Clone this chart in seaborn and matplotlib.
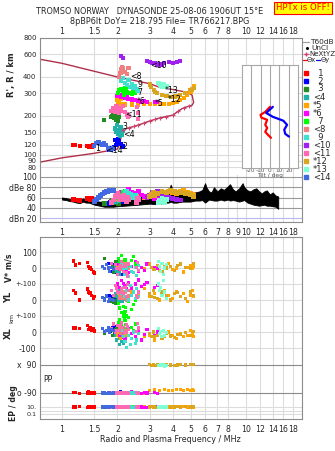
import numpy as np
import pandas as pd
import matplotlib
matplotlib.use("Agg")
import matplotlib.pyplot as plt
from matplotlib.ticker import FixedLocator, NullLocator, FixedFormatter
from matplotlib.lines import Line2D
import seaborn as sns

sns.set_theme(style="white")
plt.rcParams["font.family"] = ["DejaVu Sans"]

nan = np.nan

# ------------------------------------------------------------------ data
freq_ticks = [1, 1.5, 2, 3, 4, 5, 6, 7, 8, 10, 12, 14, 16, 18]
freq_labels = ["1", "1.5", "2", "3", "4", "5", "6", "7", "8", "10", "12", "14", "16", "18"]
freq_ticks_mid = [1, 1.5, 2, 3, 4, 5, 6, 7, 8, 9, 10, 12, 14, 16, 18]
freq_labels_mid = ["1", "1.5", "2", "3", "4", "5", "6", "7", "8", "9", "10", "12", "14", "16", "18"]
height_ticks = [80, 90, 100, 120, 150, 200, 300, 400, 600, 800]
db_ticks = [20, 40, 60, 80, 100]
db_labels = ["dBn 20", "40", "60", "dBe 80", "100"]
tilt_ticks = [-20, -10, 0, 10, 20]

mode_names = ["1", "2", "3", "<4", "*5", "*6", "7", "<8", "9", "<10", "<11", "*12", "*13", "<14"]
mode_colors = ["#FF0000", "#0000FF", "#228B22", "#20B2AA", "#FFA500", "#FF00FF", "#00FF00",
               "#F08080", "#40E0D0", "#A020F0", "#FF69B4", "#DAA520", "#7FFFD4", "#4169E1"]

# mode 1
f1 = [1.15, 1.18, 1.25, 1.37, 1.40, 1.42, 1.45, 1.48, 1.50]
h1 = [120, 119, 118, 117, 116, 118, 116, 119, 117]
db1 = [56, 55, 54, 58, 57, 56, 58, 55, 54]
v1 = [44, 19, 30, 37, 12, 0, -12, -25, -31]
yl1 = [62, 44, 0, 69, 50, 44, 30, 12, 20]
xl1 = [25, 25, 20, 40, 15, 30, 10, 20, 6]
pp1 = [-85, -88, -95, -90, -80, -92, -86, -95, -90]
ep1 = [10, 10, 12, 8, 10, 12, 10, 8, 10]
# mode 2
f2 = [1.80, 1.84, 1.88, 1.92, 1.95, 1.96, 2.00, 2.02, 2.04, 2.08, 2.12, 2.15]
h2 = [110, 109, 112, 116, 130, 120, 125, 132, 128, 122, 116, 118]
db2 = [48, 50, 50, 52, 50, 55, 58, 54, 60, 57, 55, 52]
v2 = [30, -20, 20, 0, 25, -30, 10, -10, -15, 5, -40, 15]
yl2 = [30, 0, 20, -12, -15, 10, 0, 10, 25, -5, 15, 5]
xl2 = [10, 5, 30, 0, 35, 20, 10, 20, 5, 25, 15, -5]
pp2 = [-84, -92, -90, -85, -86, -95, -88, -90, -92, -80, -90, -96]
ep2 = [10, 8, 10, 12, 12, 8, 10, 10, 10, 15, 8, 10]
# mode 3
f3 = [1.70, 1.85, 1.88, 1.90, 1.92, 1.95, 1.97, 2.00, 2.02, 2.03]
h3 = [185, 195, 200, 206, 192, 198, 188, 205, 184, 196]
db3 = [48, 52, 55, 54, 50, 53, 52, 56, 49, 50]
v3 = [60, 30, 10, -30, -20, 40, 20, 0, 50, -10]
yl3 = [10, -10, 5, -15, 20, -20, -5, 0, 25, 15]
xl3 = [-6, 10, -20, 8, 5, 15, 20, -10, -15, 0]
pp3 = [-90, -86, -94, -88, -90, -88, -96, -92, -90, -84]
ep3 = [10, 12, 10, 10, 8, 10, 15, 12, 8, 10]
# mode <4
f4 = [1.95, 1.98, 2.00, 2.02, 2.05, 2.06, 2.08, 2.10, 2.12, 2.15]
h4 = [160, 150, 170, 145, 155, 140, 165, 148, 142, 152]
db4 = [52, 55, 54, 58, 60, 57, 56, 62, 58, 60]
v4 = [10, -20, 15, 30, -40, -30, 0, 20, -10, 5]
yl4 = [40, 20, 50, 0, 60, 20, 10, 30, -10, 5]
xl4 = [-20, -50, -10, 10, -80, -40, -30, 0, -60, -70]
pp4 = [-90, -88, -92, -86, -94, -90, -84, -90, -96, -88]
ep4 = [10, 10, 12, 8, 10, 10, 12, 10, 8, 10]
# mode *5
f5 = [2.00, 2.02, 2.05, 2.08, 2.10, 2.20, 2.40, 2.60, 2.80, 3.00, 3.20, 3.40, 3.60, 3.80, 4.00,
      4.20, 4.40, 4.60, 4.80, 5.00, 5.10, 5.20]
h5 = [265, 250, 260, 272, 248, 245, 245, 245, 246, 246, 246, 246, 247, 248, 252,
      258, 265, 275, 290, 305, 320, 340]
db5 = [58, 60, 65, 60, 62, 58, 62, 65, 60, 63, 66, 70, 68, 72, 70, 68, 72, 74, 70, 68, 66, 64]
v5 = [0, 10, -10, -10, 20, 0, -20, 15, -5, 25, 5, -15, 10, 30, -10, 0, 20, -25, 5, 15, -5, 10]
yl5 = [50, 40, 20, 10, 60, 10, 50, 30, 70, 20, 40, 0, 60, 30, 10, 50, 20, 40, -10, 30, 60, 20]
xl5 = [-20, -10, -30, -40, 0, -20, -40, -10, -30, -20, -50, -10, -30, 0, -20, -40, -10, -30,
       -20, 10, -10, -30]
pp5 = [-90, -90, -88, -88, -92, -90, -86, -94, -90, -72, -70, -75, -68, -72, -74, -66, -70,
       -72, -68, -74, -70, -72]
ep5 = [10, 10, 10, 8, 12, 10, 8, 10, 12, 10, 10, 8, 12, 10, 10, 15, 10, 12, 10, 15, 12, 10]
# mode *6
f6 = [2.00, 2.05, 2.10, 2.15, 2.20, 2.25, 2.30, 2.40, 2.50, 2.60, 2.70, 2.80, 2.90, 3.20, 3.30]
h6 = [285, 290, 280, 295, 275, 285, 270, 268, 265, 262, 258, 260, 255, 258, 256]
db6 = [60, 65, 70, 66, 72, 70, 75, 70, 68, 72, 65, 62, 60, 58, 62]
v6 = [20, -10, 30, 15, 0, -25, -30, 10, 40, -20, 5, -15, 25, 0, -5]
yl6 = [100, 80, 120, 105, 90, 70, 110, 75, 100, 125, 85, 95, 110, 80, 90]
xl6 = [10, -20, 0, -35, -40, 10, 20, -10, -30, 5, -50, -15, 15, -25, 0]
pp6 = [-90, -88, -94, -90, -86, -88, -92, -80, -90, -84, -95, -88, -90, -86, -92]
ep6 = [6, 8, 6, 8, 10, 6, 8, 6, 8, 6, 10, 8, 6, 8, 10]
# mode 7
f7 = [2.02, 2.05, 2.10, 2.15, 2.18, 2.20, 2.22, 2.25, 2.30, 2.40, 2.45, 2.50]
h7 = [300, 315, 320, 310, 290, 330, 325, 305, 300, 295, 320, 300]
db7 = [60, 62, 65, 70, 58, 72, 70, 68, 66, 62, 64, 60]
v7 = [60, 40, 80, 20, 35, 50, 55, 30, 10, 45, 70, 25]
yl7 = [-20, -50, -80, -40, -90, -70, -45, -100, -10, -60, -30, 0]
xl7 = [60, 80, 40, 100, 75, 70, 45, 20, 90, 30, 10, 50]
pp7 = [-90, -86, -94, -90, -90, -88, -86, -92, -84, -90, -88, -96]
ep7 = [10, 12, 10, 8, 12, 12, 10, 10, 15, 10, 10, 8]
# mode <8
f8 = [2.05, 2.08, 2.10, 2.12, 2.15, 2.20, 2.25, 2.30]
h8 = [400, 430, 460, 480, 470, 440, 420, 470]
db8 = [55, 58, 60, 62, 58, 56, 60, 57]
v8 = [10, -10, 20, 0, -20, 30, 5, -5]
yl8 = [40, 20, 60, 30, 10, 50, 0, 25]
xl8 = [20, -10, 5, 30, -20, 10, 0, 15]
pp8 = [-90, -88, -92, -90, -86, -94, -90, -88]
ep8 = [10, 10, 12, 8, 10, 10, 12, 10]
# mode 9
f9 = [2.10, 2.15, 2.20, 2.25, 2.30, 2.35, 2.40, 2.45, 2.50, 2.55, 2.60]
h9 = [370, 390, 360, 345, 380, 335, 350, 330, 340, 320, 310]
db9 = [60, 65, 70, 72, 68, 66, 62, 60, 64, 58, 56]
v9 = [20, -10, -40, 0, -55, 10, -20, -30, 5, -45, 15]
yl9 = [40, 80, 20, 60, 0, 90, 30, 50, 10, 70, 20]
xl9 = [10, -30, -60, -95, -20, -80, -40, 0, -70, -50, -10]
pp9 = [-90, -86, -92, -88, -94, -90, -84, -90, -96, -88, -90]
ep9 = [10, 12, 10, 8, 10, 12, 10, 8, 10, 10, 12]
# mode <10 (ionogram and amplitude only)
f10 = [2.10, 2.15, 2.90, 3.00, 3.10, 3.20, 3.30, 3.40, 3.50, 3.60, 3.80, 4.00, 4.20, 4.40]
h10 = [580, 560, 530, 520, 510, 515, 500, 505, 495, 510, 520, 515, 525, 535]
db10 = [58, 60, 60, 65, 70, 68, 72, 66, 64, 62, 60, 58, 56, 55]
v10 = [nan] * 14
yl10 = [nan] * 14
xl10 = [nan] * 14
pp10 = [nan] * 14
ep10 = [nan] * 14
# mode <11
f11 = [1.85, 1.90, 1.95, 1.98, 2.00, 2.05, 2.08, 2.10, 2.15, 2.20, 2.25, 2.28, 2.30, 2.55, 2.58, 2.60]
h11 = [220, 230, 215, 238, 225, 210, 232, 220, 240, 215, 205, 195, 200, 235, 190, 210]
db11 = [50, 55, 62, 64, 68, 60, 57, 55, 65, 58, 52, 60, 56, 50, 58, 55]
v11 = [30, -10, 20, -5, -40, 0, 15, 40, -20, 10, -30, -50, 25, 5, 35, -15]
yl11 = [60, 30, 90, 75, 50, 10, 45, 70, 40, 80, 20, 95, 60, 30, 15, 50]
xl11 = [20, 50, 0, 10, 40, 10, 40, 60, 30, -5, 45, 35, 15, 5, 55, 25]
pp11 = [-90, -86, -94, -90, -88, -92, -84, -90, -96, -88, -90, -86, -92, -88, -90, -94]
ep11 = [10, 12, 10, 8, 10, 12, 10, 8, 10, 10, 12, 8, 10, 10, 12, 10]
# mode *12
f12 = [3.00, 3.05, 3.15, 3.20, 3.30, 3.50, 3.70, 3.90, 4.10, 4.25, 4.40, 4.70, 5.00, 5.20]
h12 = [350, 335, 315, 305, 300, 292, 285, 282, 283, 286, 290, 300, 315, 330]
db12 = [62, 66, 70, 64, 68, 72, 70, 74, 72, 70, 70, 68, 66, 62]
v12 = [20, 5, -10, -10, 15, -20, 0, 10, -15, 15, 25, 5, -5, 30]
yl12 = [40, 20, 60, 15, 10, 50, 30, 0, 40, 45, 20, 10, 50, 30]
xl12 = [-10, -30, 0, -30, -20, -40, -10, -25, -35, -15, -15, -5, -20, 5]
pp12 = [92, 88, 95, 88, 90, 86, 94, 90, 88, 90, 96, 90, 92, 94]
ep12 = [10, 12, 10, 10, 8, 10, 12, 10, 10, 12, 8, 12, 10, 15]
# mode *13
f13 = [3.35, 3.40, 3.45, 3.50, 3.55, 3.60, 3.70]
h13 = [360, 350, 340, 335, 345, 355, 338]
db13 = [50, 55, 52, 58, 54, 50, 56]
v13 = [40, 10, -20, 30, -40, 0, 20]
yl13 = [100, 60, 80, 30, 120, 50, 10]
xl13 = [20, -10, 0, -30, 10, -20, -5]
pp13 = [88, 84, 92, 86, 90, 82, 88]
ep13 = [10, 12, 10, 8, 10, 12, 10]
# mode <14
f14 = [1.50, 1.54, 1.58, 1.62, 1.66, 1.70, 1.74, 1.78, 1.82, 1.86, 1.90]
h14 = [118, 124, 126, 122, 120, 123, 119, 113, 110, 111, 113]
db14 = [52, 56, 60, 64, 67, 69, 71, 72, 73, 74, 74]
v14 = [nan, nan, nan, nan, 10, -5, 20, 0, -20, 5, -10]
yl14 = [nan, nan, nan, nan, 15, 0, 25, -10, 10, 5, -5]
xl14 = [nan, nan, nan, nan, 20, 5, 10, 25, 0, 15, 10]
pp14 = [nan, nan, nan, nan, -90, -88, -92, -86, -90, -94, -90]
ep14 = [nan, nan, nan, nan, 10, 12, 10, 8, 10, 12, 10]

# model profile (crimson) and NeXtYZ trace
prof_f = [0.76, 1.0, 1.5, 2.0, 2.05, 2.10, 2.15, 2.25, 2.6, 3.0, 3.4, 4.0, 4.5, 4.8, 5.1, 5.2,
          5.15, 5.1, 4.77, 4.0, 3.4, 3.0, 2.0, 1.0, 0.76]
prof_h = [88, 95, 103, 111, 120, 140, 155, 160, 170, 183, 193, 203, 228, 236, 242, 255,
          270, 290, 305, 320, 333, 355, 400, 510, 548]
xyz_f = [2.15, 2.3, 2.45, 2.6, 2.8, 3.0, 3.2, 3.4, 3.7, 4.0, 4.3, 4.6, 4.9]
xyz_h = [155, 162, 166, 170, 176, 183, 188, 193, 198, 203, 218, 231, 238]

# trace labels in the ionogram
lab_text = ["1", "<14", "2", "3", "<4", "<11", "*6", "*5", "7", "9", "<8", "<10", "*13", "*12"]
lab_f = [1.51, 1.74, 2.13, 2.12, 2.14, 2.20, 2.56, 3.20, 2.56, 2.58, 2.34, 3.00, 3.63, 3.77]
lab_h = [112, 109, 117, 167, 145, 207, 260, 250, 305, 350, 405, 492, 314, 270]

# total amplitude (black band)
amp_f = [1.00, 1.05, 1.10, 1.15, 1.20, 1.25, 1.30, 1.35, 1.40, 1.45, 1.50, 1.55, 1.60, 1.70, 1.80,
         1.90, 2.00, 2.20, 2.40, 2.60, 2.80, 3.00, 3.20, 3.40, 3.60, 3.80, 3.90, 4.00, 4.20, 4.50,
         4.80, 5.00, 5.30, 5.60, 5.80, 6.00, 6.10, 6.30, 6.50, 6.70, 7.00, 7.30, 7.60, 8.00, 8.20,
         8.50, 8.80, 9.20, 9.60, 9.80, 10.2, 10.6, 11.0, 11.4, 11.8, 12.2, 12.6, 13.0, 13.5, 14.0,
         14.5, 15.0]
amp_hi = [60, 59, 57, 56, 57, 55, 58, 57, 58, 56, 55, 53, 52, 52, 53, 54, 56, 58, 60, 62, 60, 63,
          62, 66, 70, 72, 85, 75, 70, 72, 70, 68, 70, 72, 75, 88, 80, 72, 70, 80, 72, 78, 75, 82,
          86, 76, 72, 78, 88, 80, 74, 72, 76, 78, 72, 68, 72, 74, 66, 70, 64, 62]
amp_lo = [56, 55, 53, 52, 50, 49, 52, 50, 50, 48, 46, 45, 44, 42, 42, 42, 43, 44, 45, 46, 47, 48,
          47, 48, 50, 50, 52, 50, 50, 52, 52, 52, 54, 54, 55, 50, 52, 56, 55, 54, 54, 56, 54, 56,
          54, 55, 54, 52, 54, 55, 50, 48, 46, 45, 44, 45, 46, 44, 44, 43, 42, 38]

# tilt inset
tiltx_h = [234, 214, 203, 193, 186, 170, 161, 150, 142, 135]
tiltx_deg = [0, -5, -10, -9, -3, -5, -3, -5, -2, 1]
tilty_h = [234, 210, 196, 183, 170, 156, 145, 138]
tilty_deg = [3, -4, 3, 14, 18, 15, 16, 20]

modes = [
    (f1, h1, db1, v1, yl1, xl1, pp1, ep1), (f2, h2, db2, v2, yl2, xl2, pp2, ep2),
    (f3, h3, db3, v3, yl3, xl3, pp3, ep3), (f4, h4, db4, v4, yl4, xl4, pp4, ep4),
    (f5, h5, db5, v5, yl5, xl5, pp5, ep5), (f6, h6, db6, v6, yl6, xl6, pp6, ep6),
    (f7, h7, db7, v7, yl7, xl7, pp7, ep7), (f8, h8, db8, v8, yl8, xl8, pp8, ep8),
    (f9, h9, db9, v9, yl9, xl9, pp9, ep9), (f10, h10, db10, v10, yl10, xl10, pp10, ep10),
    (f11, h11, db11, v11, yl11, xl11, pp11, ep11), (f12, h12, db12, v12, yl12, xl12, pp12, ep12),
    (f13, h13, db13, v13, yl13, xl13, pp13, ep13), (f14, h14, db14, v14, yl14, xl14, pp14, ep14),
]

# ------------------------------------------------------------------ composite scale of the lower panel
def u_v(v): return 151 + np.asarray(v, float) * 0.16
def u_yl(v): return 119 + np.asarray(v, float) * 0.16
def u_xl(v): return 87 + np.asarray(v, float) * 0.16
def u_pp(v): return 26 + (np.asarray(v, float) + 90) * 28 / 180
def u_ep(v): return 5 + (np.log10(np.asarray(v, float)) + 1) * 3.5

rows = []
ion_rows = []
db_rows = []
for name, (f, h, db, v, yl, xl, pp, ep) in zip(mode_names, modes):
    ion_rows.append(pd.DataFrame({"f": f, "y": h, "mode": name}))
    db_rows.append(pd.DataFrame({"f": f, "y": db, "mode": name}))
    for fn, vals in ((u_v, v), (u_yl, yl), (u_xl, xl), (u_pp, pp), (u_ep, ep)):
        rows.append(pd.DataFrame({"f": f, "y": fn(vals), "mode": name}))
df_ion = pd.concat(ion_rows, ignore_index=True)
df_db = pd.concat(db_rows, ignore_index=True)
df_lo = pd.concat(rows, ignore_index=True).dropna()
pal = dict(zip(mode_names, mode_colors))

# ------------------------------------------------------------------ figure
W, H = 335, 451
fig = plt.figure(figsize=(W / 100, H / 100), dpi=100)
fig.patch.set_facecolor("white")


def box(x0, y0, x1, y1):
    return [x0 / W, 1 - y1 / H, (x1 - x0) / W, (y1 - y0) / H]


def fx(x): return x / W
def fy(y): return 1 - y / H


GRID = "#DCDCDC"
FRAME = "#8C8C8C"
FS = 5.6
XLIM = (0.759, 20.2)


def freq_axis(ax, ticks, labels):
    ax.set_xscale("log")
    ax.set_xlim(*XLIM)
    ax.xaxis.set_major_locator(FixedLocator(ticks))
    ax.xaxis.set_major_formatter(FixedFormatter(labels))
    ax.xaxis.set_minor_locator(NullLocator())
    for s in ax.spines.values():
        s.set_color(FRAME)
        s.set_linewidth(0.8)
    ax.set_facecolor("white")


# ---- ionogram
ax = fig.add_axes(box(40, 38, 302, 175))
freq_axis(ax, freq_ticks, freq_labels)
ax.set_yscale("log")
ax.set_ylim(70, 800)
ax.yaxis.set_major_locator(FixedLocator(height_ticks))
ax.yaxis.set_major_formatter(FixedFormatter([str(t) for t in height_ticks]))
ax.yaxis.set_minor_locator(NullLocator())
ax.tick_params(axis="x", which="both", length=0, bottom=False, top=False, labelbottom=False,
               labeltop=True, labelsize=FS, pad=1.5)
ax.tick_params(axis="y", which="both", length=0, left=False, labelsize=5.0, pad=2.5)
ax.grid(True, color=GRID, lw=0.8)
ax.spines["bottom"].set_visible(False)
sns.lineplot(x=prof_f, y=prof_h, sort=False, estimator=None, color="#B0304A", lw=1.0, ax=ax,
             zorder=2)
sns.scatterplot(data=df_ion, x="f", y="y", hue="mode", hue_order=mode_names, palette=pal,
                marker="s", s=9, linewidth=0, legend=False, ax=ax, zorder=3)
sns.scatterplot(x=xyz_f, y=xyz_h, marker="+", s=12, linewidth=0.8, color="#D04070", ax=ax,
                zorder=4)
for t, f, h in zip(lab_text, lab_f, lab_h):
    ax.text(f, h, t, fontsize=5.6, ha="left", va="center", color="black", zorder=6)
ax.set_xlabel("")
ax.set_ylabel("")

# ---- tilt inset
axt = fig.add_axes(box(242, 65, 298, 168))
axt.set_facecolor("white")
axt.set_xlim(-29.5, 29.5)
axt.set_yscale("log")
axt.set_ylim(79, 492)
axt.xaxis.set_major_locator(FixedLocator(tilt_ticks))
axt.xaxis.set_major_formatter(FixedFormatter([str(t) for t in tilt_ticks]))
axt.yaxis.set_major_locator(NullLocator())
axt.yaxis.set_minor_locator(NullLocator())
axt.tick_params(axis="x", length=0, bottom=False, labelsize=4.2, pad=0.3, colors="#555555")
axt.tick_params(axis="y", length=0, left=False)
axt.grid(True, axis="x", color="#A8A8A8", lw=0.8)
for s in axt.spines.values():
    s.set_color("#A8A8A8")
    s.set_linewidth(0.8)
sns.lineplot(x=tiltx_deg, y=tiltx_h, sort=False, estimator=None, color="#FF0000", lw=1.6, ax=axt)
sns.lineplot(x=tilty_deg, y=tilty_h, sort=False, estimator=None, color="#0000FF", lw=1.6, ax=axt)
axt.set_xlabel("")
axt.set_ylabel("")
fig.text(fx(270), fy(175.5), "Tilt / deg", fontsize=4.2, color="#555555", ha="center",
         va="center")

# ---- amplitude panel
axd = fig.add_axes(box(40, 175, 302, 222))
freq_axis(axd, freq_ticks_mid, freq_labels_mid)
axd.set_ylim(12.2, 103.9)
axd.yaxis.set_major_locator(FixedLocator(db_ticks))
axd.yaxis.set_major_formatter(FixedFormatter(db_labels))
axd.tick_params(axis="x", length=0, bottom=False, labelsize=FS, pad=4.0)
axd.tick_params(axis="y", length=0, left=False, labelsize=FS, pad=2.5)
axd.grid(True, axis="x", color=GRID, lw=0.8)
axd.spines["top"].set_visible(False)
for lv in db_ticks[1:]:
    axd.axhline(lv, color="#9A9A9A", lw=0.8, zorder=1)
axd.axhline(db_ticks[0], color="#B8B8F0", lw=0.8, zorder=1)
axd.fill_between(amp_f, amp_lo, amp_hi, color="black", lw=0.6, zorder=2)
sns.scatterplot(data=df_db, x="f", y="y", hue="mode", hue_order=mode_names, palette=pal,
                marker="s", s=12, linewidth=0, legend=False, ax=axd, zorder=3)
axd.set_xlabel("")
axd.set_ylabel("")

# ---- lower panel (V*, YL, XL, PP, EP)
axl = fig.add_axes(box(40, 237, 302, 419))
freq_axis(axl, freq_ticks, freq_labels)
axl.set_ylim(0, 182)
light_levels = [u_v(100), u_v(0), u_v(-100), u_yl(0), u_yl(-100), u_xl(0), u_xl(-100),
                u_ep(10), u_ep(1), u_ep(0.1)]
dark_levels = [u_pp(90), u_pp(-90)]
lo_ticks = [u_v(100), u_v(0), u_v(-100), u_yl(0), u_yl(-100), u_xl(0), u_xl(-100),
            u_pp(90), u_pp(-90), u_ep(10), u_ep(0.1)]
lo_labels = ["100", "0", "+-100", "0", "+-100", "0", "-100", "x  90", "o -90", "10.", "0.1"]
axl.yaxis.set_major_locator(FixedLocator([float(t) for t in lo_ticks]))
axl.yaxis.set_major_formatter(FixedFormatter(lo_labels))
axl.tick_params(axis="x", length=0, bottom=False, labelsize=FS, pad=4.0)
axl.tick_params(axis="y", length=0, left=False, labelsize=FS, pad=2.5)
axl.grid(True, axis="x", color=GRID, lw=0.8)
for lv in light_levels:
    axl.axhline(float(lv), color=GRID, lw=0.8, zorder=1)
for lv in dark_levels:
    axl.axhline(float(lv), color="#8A8A8A", lw=0.8, zorder=1)
sns.scatterplot(data=df_lo, x="f", y="y", hue="mode", hue_order=mode_names, palette=pal,
                marker="s", s=5, linewidth=0, legend=False, ax=axl, zorder=3)
axl.set_xlabel("")
axl.set_ylabel("")
fig.canvas.draw()
for lab in axl.get_yticklabels():
    if lab.get_text().startswith("+-"):
        lab.set_fontsize(4.9)
    if lab.get_text() in ("10.", "0.1"):
        lab.set_fontsize(4.6)
fig.text(fx(170), fy(439), "Radio and Plasma Frequency / MHz", fontsize=5.8,
         ha="center", va="center")

# ---- side labels
fig.text(fx(12), fy(75), "R', R / km", rotation=90, fontsize=6, fontweight="bold",
         ha="center", va="center")
fig.text(fx(9), fy(268), "V* m/s", rotation=90, fontsize=5.6, fontweight="bold",
         ha="center", va="center")
fig.text(fx(9), fy(297), "YL", rotation=90, fontsize=6, fontweight="bold",
         ha="center", va="center")
fig.text(fx(11.5), fy(318), "km", rotation=90, fontsize=4.6, ha="center", va="center")
fig.text(fx(8), fy(333), "XL", rotation=90, fontsize=6, fontweight="bold",
         ha="center", va="center")
fig.text(fx(43), fy(380), "PP", fontsize=5.6, ha="left", va="center")
fig.text(fx(13), fy(403), "EP / deg", rotation=90, fontsize=5.6, fontweight="bold",
         ha="center", va="center")

# ---- titles
fig.text(fx(150), fy(12), "TROMSO NORWAY   DYNASONDE 25-08-06 1906UT 15°E", fontsize=5.9,
         ha="center", va="center")
fig.text(fx(160), fy(21), "8pBP6It DoY= 218.795 File= TR766217.BPG", fontsize=5.9,
         ha="center", va="center")
fig.text(fx(303), fy(8), "HPTx is OFF!", fontsize=6.1, color="#FF0000", ha="center",
         va="center", bbox=dict(boxstyle="square,pad=0.2", fc="#FFFF00", ec="#FF0000", lw=0.8))

# ---- legend
LFS = 5.3
fig.add_artist(Line2D([fx(303), fx(309)], [fy(42), fy(42)], color="#A0A0A0", lw=0.9))
fig.text(fx(310), fy(42), "T60dB", fontsize=LFS, ha="left", va="center")
fig.add_artist(Line2D([fx(307)], [fy(48)], marker="o", ms=1.2, color="black", lw=0))
fig.text(fx(311), fy(48), "UnCl", fontsize=LFS, ha="left", va="center")
fig.add_artist(Line2D([fx(303), fx(309)], [fy(54), fy(54)], color="#E08098", lw=0.8))
fig.add_artist(Line2D([fx(306)], [fy(54)], marker="+", ms=3, color="#D04070", lw=0))
fig.text(fx(309.5), fy(54), "NeXtYZ", fontsize=LFS - 0.3, ha="left", va="center")
fig.add_artist(Line2D([fx(303), fx(307)], [fy(60), fy(60)], color="#FF0000", lw=0.9))
fig.text(fx(307), fy(60), "Θx", fontsize=4.8, ha="left", va="center")
fig.add_artist(Line2D([fx(316), fx(320)], [fy(60), fy(60)], color="#0000FF", lw=0.9))
fig.text(fx(320.5), fy(60), "Θy", fontsize=4.8, ha="left", va="center")
for i, (name, col) in enumerate(zip(mode_names, mode_colors)):
    yy = 73 + 8 * i
    fig.add_artist(Line2D([fx(306)], [fy(yy)], marker="s", ms=2.4, color=col, lw=0))
    txt = name if not name[0].isdigit() else "  " + name
    fig.text(fx(313), fy(yy), txt, fontsize=6, ha="left", va="center")

fig.savefig("out.png", dpi=100, facecolor="white")
